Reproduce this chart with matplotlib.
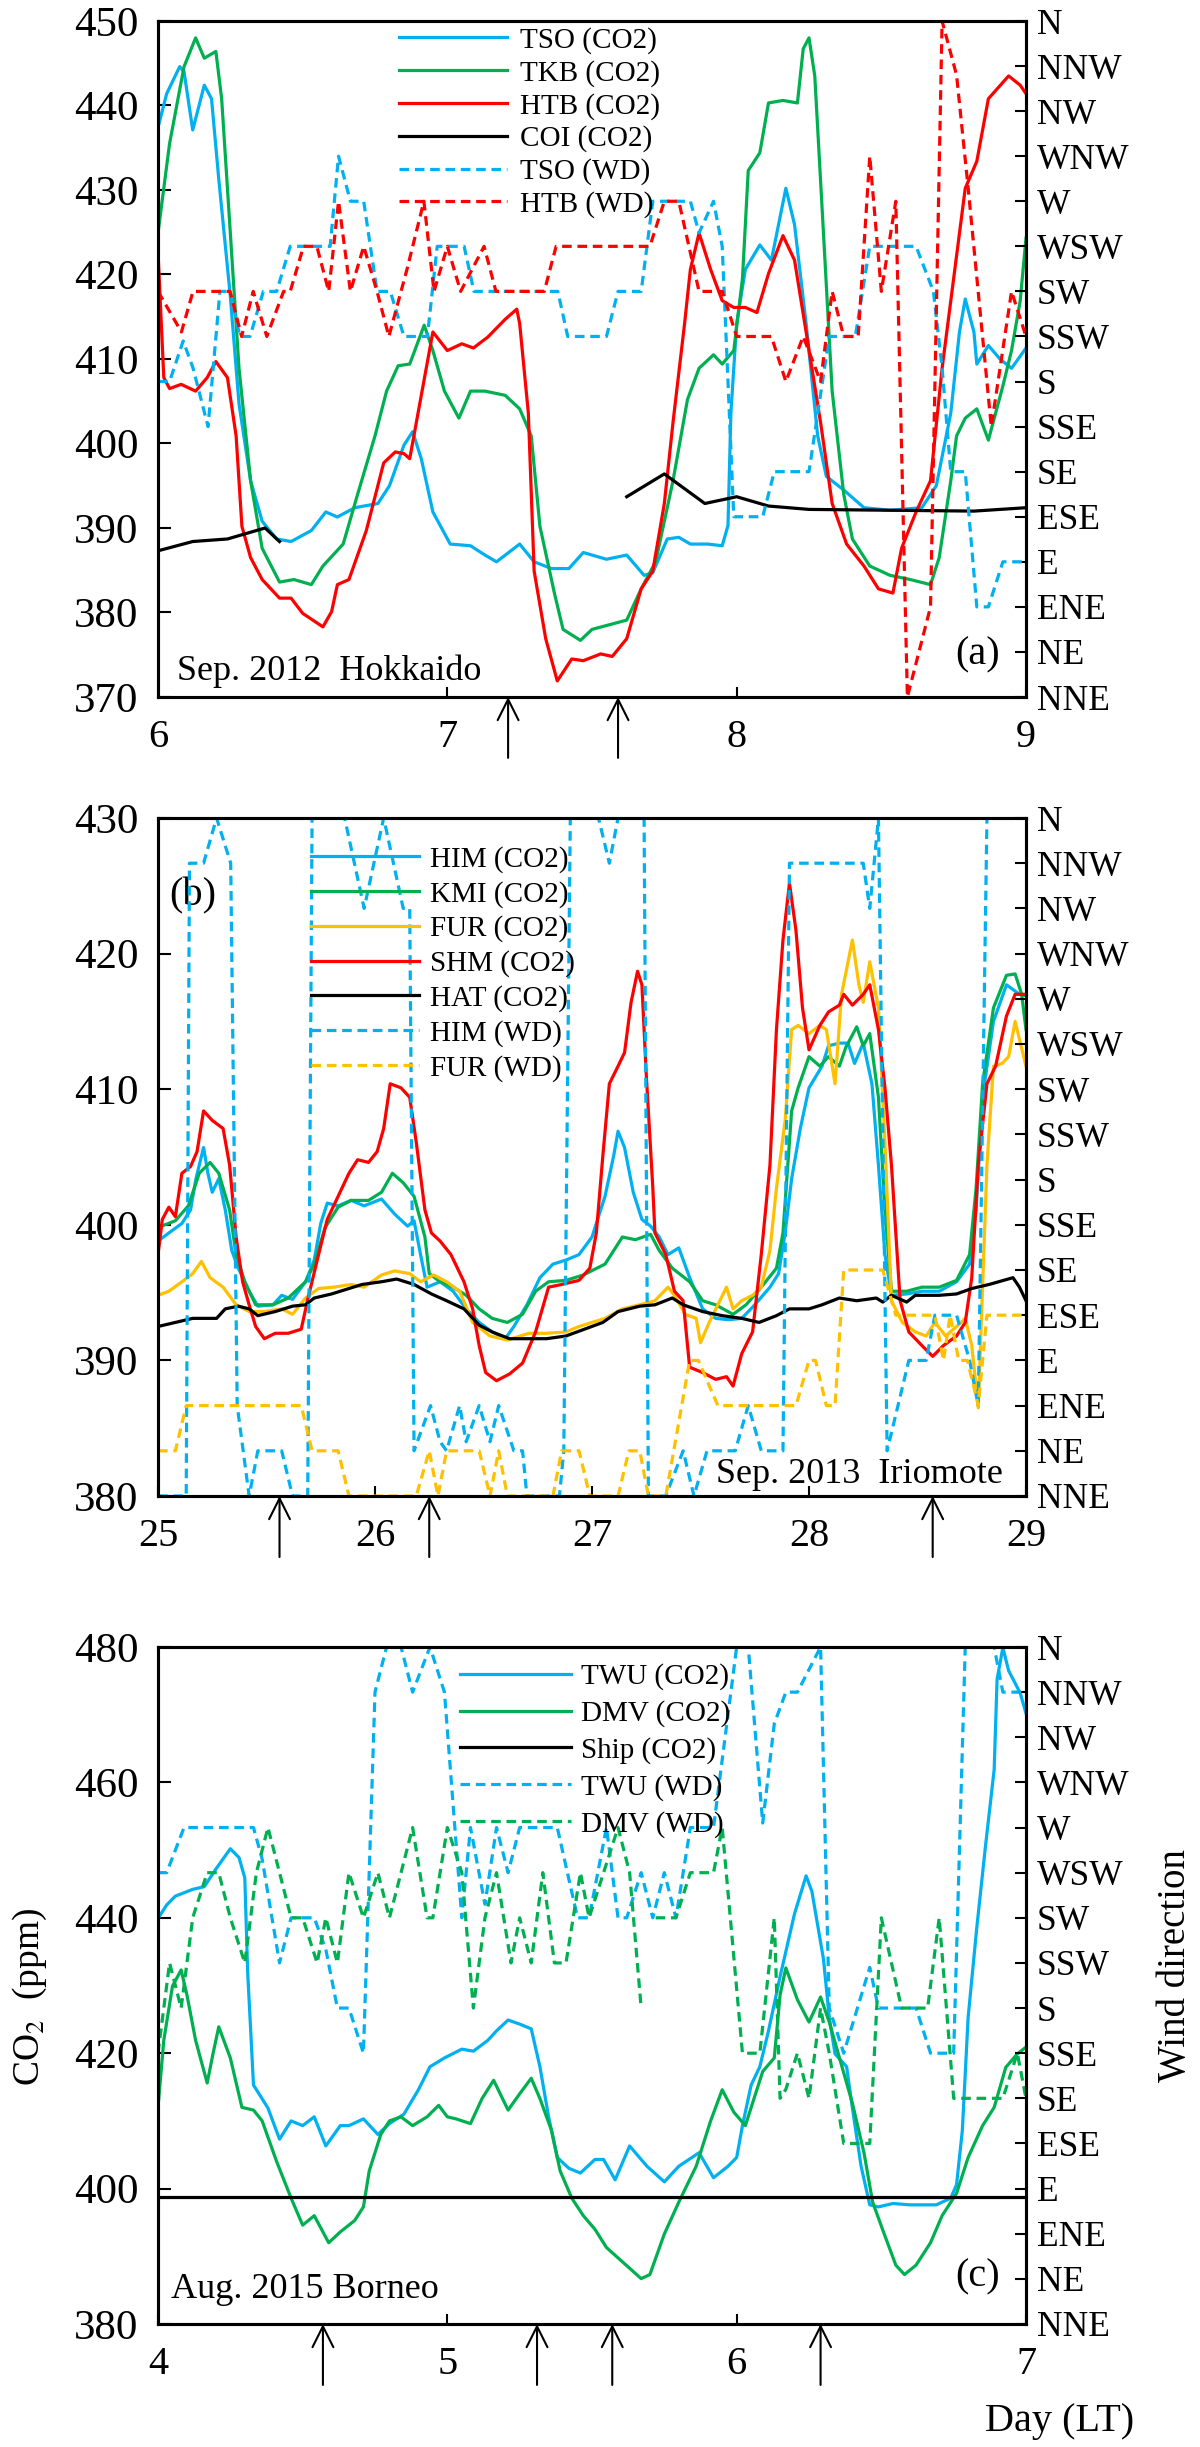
import matplotlib
matplotlib.use("Agg")
import matplotlib.pyplot as plt
import numpy as np

plt.rcParams['font.family'] = ['Liberation Serif', 'DejaVu Serif']
plt.rcParams['mathtext.fontset'] = 'stix'

BLUE = '#00B0F0'
GREEN = '#00B050'
RED = '#FF0000'
YELLOW = '#FFC000'

compass = ['NNE', 'NE', 'ENE', 'E', 'ESE', 'SE', 'SSE', 'S',
           'SSW', 'SW', 'WSW', 'W', 'WNW', 'NW', 'NNW', 'N']  # sector 1..16

# ---------------- (a) Sep. 2012 Hokkaido ----------------
tso_t = [6.00, 6.03, 6.075, 6.09, 6.12, 6.16, 6.185, 6.21, 6.25, 6.28, 6.32, 6.36, 6.41, 6.46, 6.53, 6.58, 6.62,
         6.68, 6.76, 6.80, 6.85, 6.88, 6.91, 6.95, 7.01, 7.08, 7.13, 7.17, 7.25, 7.30, 7.36, 7.42, 7.47, 7.55, 7.62,
         7.68, 7.71, 7.76, 7.80, 7.84, 7.90, 7.95, 7.97, 7.98, 8.00, 8.03, 8.08, 8.12, 8.17, 8.20, 8.24, 8.28, 8.31,
         8.37, 8.44, 8.53, 8.64, 8.69, 8.74, 8.77, 8.79, 8.82, 8.83, 8.87, 8.91, 8.95, 9.00]
tso_co2 = [437.4, 441.4, 444.6, 444.0, 437.1, 442.4, 440.8, 431.3, 417.4, 404.7, 395.6, 390.8, 388.7, 388.4, 389.7,
           391.9, 391.3, 392.4, 392.9, 395.0, 399.8, 401.4, 398.2, 391.9, 388.1, 387.9, 386.8, 386.0, 388.1, 386.0,
           385.2, 385.2, 387.1, 386.3, 386.8, 384.4, 384.7, 388.7, 388.9, 388.1, 388.1, 387.9, 390.3, 403.6, 414.2,
           420.6, 423.5, 421.7, 430.2, 425.9, 414.2, 400.9, 396.1, 394.5, 392.4, 392.1, 392.4, 395.0, 403.6, 413.2,
           417.1, 413.2, 409.4, 411.6, 410.0, 408.9, 411.3]

tkb_t = [6.00, 6.04, 6.09, 6.13, 6.16, 6.20, 6.22, 6.25, 6.28, 6.32, 6.36, 6.42, 6.47, 6.53, 6.57, 6.64, 6.69, 6.75,
         6.79, 6.83, 6.87, 6.92, 6.95, 6.99, 7.04, 7.08, 7.13, 7.20, 7.25, 7.29, 7.32, 7.37, 7.40, 7.46, 7.50, 7.62,
         7.67, 7.72, 7.78, 7.83, 7.87, 7.92, 7.95, 7.99, 8.02, 8.04, 8.08, 8.11, 8.16, 8.21, 8.23, 8.25, 8.27, 8.30,
         8.33, 8.37, 8.40, 8.46, 8.53, 8.60, 8.67, 8.70, 8.74, 8.76, 8.79, 8.83, 8.87, 8.92, 8.95, 8.98, 9.00]
tkb_co2 = [424.9, 435.5, 444.6, 448.0, 445.6, 446.4, 440.8, 424.9, 408.9, 395.6, 387.6, 383.6, 383.9, 383.3, 385.5,
           388.1, 394.0, 400.9, 406.2, 409.2, 409.4, 414.0, 411.0, 406.2, 403.0, 406.2, 406.2, 405.7, 404.1, 400.9,
           390.2, 382.3, 378.0, 376.7, 378.0, 379.1, 382.8, 386.0, 395.6, 405.2, 408.9, 410.5, 409.4, 411.0, 419.5,
           432.3, 434.4, 440.3, 440.6, 440.3, 446.7, 448.0, 443.5, 424.9, 406.2, 394.0, 388.7, 385.5, 384.4, 383.9,
           383.3, 386.5, 395.6, 400.9, 403.0, 404.1, 400.4, 406.8, 411.0, 416.9, 424.3]

htb_t = [6.00, 6.02, 6.04, 6.08, 6.13, 6.17, 6.20, 6.24, 6.27, 6.29, 6.32, 6.36, 6.42, 6.46, 6.50, 6.57, 6.60, 6.62,
         6.66, 6.72, 6.78, 6.82, 6.85, 6.87, 6.91, 6.95, 7.00, 7.05, 7.09, 7.14, 7.20, 7.24, 7.25, 7.28, 7.30, 7.34,
         7.38, 7.43, 7.47, 7.53, 7.57, 7.62, 7.67, 7.71, 7.75, 7.78, 7.82, 7.84, 7.87, 7.91, 7.95, 7.99, 8.03, 8.07,
         8.11, 8.16, 8.20, 8.24, 8.29, 8.33, 8.38, 8.44, 8.49, 8.54, 8.57, 8.62, 8.67, 8.71, 8.76, 8.79, 8.83, 8.87,
         8.94, 8.98, 9.00]
htb_co2 = [422.7, 407.8, 406.5, 407.0, 406.2, 407.8, 409.7, 407.8, 400.9, 390.2, 386.5, 383.9, 381.7, 381.7, 379.9,
           378.3, 380.1, 383.3, 383.9, 389.7, 397.7, 399.0, 398.8, 398.2, 405.7, 413.2, 411.0, 411.8, 411.3, 412.6,
           414.7, 415.9, 414.2, 403.6, 384.9, 376.9, 371.9, 374.5, 374.3, 375.1, 374.8, 376.9, 382.8, 384.9, 392.9,
           402.5, 414.2, 420.6, 424.9, 420.6, 416.9, 416.1, 416.1, 415.5, 420.1, 424.6, 421.7, 413.2, 402.5, 392.9,
           388.1, 385.5, 382.8, 382.3, 387.6, 391.9, 395.6, 408.9, 422.2, 430.2, 433.4, 440.8, 443.5, 442.4, 441.4]

coi_t = [6.00, 6.12, 6.24, 6.29, 6.37, 6.42, 7.00, 7.62, 7.75, 7.89, 8.00, 8.11, 8.25, 8.53, 8.82, 9.00]
coi_co2 = [387.3, 388.4, 388.7, 389.2, 390.0, 388.4, np.nan, 393.7, 396.4, 392.9, 393.7, 392.6, 392.2, 392.1,
           392.0, 392.4]

tso_wd_t = [6.00, 6.04, 6.087, 6.121, 6.173, 6.214, 6.249, 6.283, 6.318, 6.364, 6.41, 6.457, 6.595, 6.624, 6.665,
            6.711, 6.757, 6.803, 6.85, 6.931, 6.965, 7.058, 7.092, 7.382, 7.416, 7.55, 7.59, 7.67, 7.71, 7.84, 7.87,
            7.92, 7.95, 7.99, 8.09, 8.13, 8.25, 8.32, 8.41, 8.46, 8.62, 8.68, 8.71, 8.74, 8.79, 8.83, 8.87, 8.92, 9.00]
tso_wd = [8, 8, 8.9, 8.3, 7, 10, 10, 9, 9, 10, 10, 11, 11, 13, 12, 12, 10, 10, 9, 9, 11, 11, 10, 10, 9, 9, 10, 10,
          12, 12, 11.3, 12, 11, 5, 5, 6, 6, 9, 9, 11, 11, 10, 8.3, 6, 6, 3, 3, 4, 4]

htb_wd_t = [6.00, 6.081, 6.121, 6.249, 6.289, 6.329, 6.376, 6.434, 6.457, 6.503, 6.549, 6.59, 6.624, 6.665, 6.711,
            6.757, 6.798, 6.861, 6.919, 6.954, 7.00, 7.046, 7.127, 7.168, 7.335, 7.376, 7.70, 7.75, 7.80, 7.87, 7.95,
            8.00, 8.12, 8.17, 8.23, 8.29, 8.33, 8.37, 8.42, 8.46, 8.50, 8.55, 8.59, 8.67, 8.71, 8.76, 8.80, 8.88,
            8.95, 9.00]
htb_wd = [10, 9.1, 10, 10, 9, 10, 9, 10, 10, 11, 11, 10, 12, 10, 11, 10, 9, 10.5, 12, 10, 11, 10, 11, 10, 10, 11,
          11, 12, 12, 10, 10, 9, 9, 8, 9, 8, 10, 9, 9, 13, 10, 12, 1, 3, 16, 14.8, 12.3, 7, 10, 9]

arrows_a = [7.21, 7.59]

# ---------------- (b) Sep. 2013 Iriomote ----------------
him_t = [25.00, 25.05, 25.11, 25.15, 25.175, 25.21, 25.23, 25.25, 25.28, 25.31, 25.34, 25.37, 25.42, 25.46, 25.53,
         25.57, 25.62, 25.68, 25.72, 25.75, 25.78, 25.83, 25.89, 25.95, 26.03, 26.09, 26.15, 26.18, 26.21, 26.24,
         26.30, 26.36, 26.42, 26.48, 26.54, 26.60, 26.64, 26.70, 26.76, 26.82, 26.88, 26.94, 27.00, 27.06, 27.10,
         27.12, 27.15, 27.19, 27.23, 27.27, 27.31, 27.35, 27.40, 27.45, 27.51, 27.57, 27.63, 27.69, 27.75, 27.82,
         27.86, 27.89, 27.92, 27.96, 28.00, 28.06, 28.09, 28.14, 28.18, 28.21, 28.25, 28.29, 28.32, 28.35, 28.38,
         28.45, 28.52, 28.60, 28.68, 28.74, 28.77, 28.80, 28.85, 28.91, 28.97, 29.00]
him_co2 = [398.8, 399.4, 400.1, 401.1, 403.4, 405.7, 403.8, 402.4, 403.4, 401.1, 398.1, 396.8, 395.1, 394.0, 394.1,
           394.8, 394.5, 395.8, 397.4, 400.1, 401.6, 401.4, 401.8, 401.4, 401.9, 400.8, 399.9, 400.3, 397.8, 395.4,
           395.8, 395.1, 393.8, 392.8, 392.1, 391.6, 392.5, 394.1, 396.1, 397.1, 397.4, 397.8, 399.1, 402.1, 405.1,
           406.9, 405.7, 402.4, 400.4, 399.9, 399.1, 397.8, 398.3, 396.1, 393.8, 393.1, 393.0, 393.1, 394.1, 395.4,
           396.4, 399.4, 403.4, 407.1, 410.1, 411.7, 413.2, 413.4, 413.4, 411.9, 413.4, 410.4, 404.4, 397.8, 394.8,
           394.9, 395.1, 395.1, 395.8, 397.1, 401.1, 409.4, 415.0, 417.7, 417.0, 416.9]

kmi_t = [25.00, 25.08, 25.14, 25.19, 25.24, 25.28, 25.33, 25.36, 25.40, 25.45, 25.53, 25.60, 25.68, 25.72, 25.77,
         25.83, 25.89, 25.97, 26.03, 26.08, 26.13, 26.18, 26.23, 26.25, 26.30, 26.36, 26.42, 26.48, 26.54, 26.61,
         26.68, 26.74, 26.80, 26.88, 26.96, 27.06, 27.14, 27.20, 27.27, 27.31, 27.37, 27.45, 27.51, 27.57, 27.65,
         27.71, 27.78, 27.85, 27.88, 27.92, 27.95, 28.00, 28.05, 28.09, 28.14, 28.17, 28.22, 28.25, 28.28, 28.32,
         28.35, 28.38, 28.45, 28.52, 28.60, 28.68, 28.74, 28.77, 28.80, 28.85, 28.91, 28.95, 28.98, 29.00]
kmi_co2 = [399.8, 400.3, 401.4, 403.8, 404.6, 403.8, 401.1, 397.8, 395.8, 394.1, 394.1, 394.6, 395.8, 397.1, 399.8,
           401.3, 401.8, 401.8, 402.4, 403.8, 403.1, 402.1, 399.1, 396.4, 395.8, 395.4, 394.8, 393.8, 393.1, 392.8,
           393.4, 395.1, 395.8, 395.9, 396.3, 397.1, 399.1, 398.9, 399.3, 398.1, 396.8, 395.8, 394.4, 394.1, 393.4,
           394.1, 395.4, 396.8, 399.4, 408.4, 410.1, 412.4, 411.7, 412.4, 411.7, 413.1, 414.6, 413.2, 414.1, 409.4,
           401.1, 395.1, 395.1, 395.4, 395.4, 395.9, 397.8, 402.7, 410.4, 416.0, 418.4, 418.5, 417.0, 414.4]

fur_t = [25.00, 25.05, 25.11, 25.16, 25.20, 25.24, 25.30, 25.36, 25.42, 25.49, 25.57, 25.62, 25.68, 25.74, 25.81,
         25.89, 25.95, 26.03, 26.09, 26.16, 26.21, 26.27, 26.33, 26.39, 26.45, 26.53, 26.61, 26.71, 26.79, 26.88,
         26.94, 27.06, 27.14, 27.22, 27.29, 27.35, 27.38, 27.43, 27.48, 27.50, 27.54, 27.58, 27.62, 27.65, 27.69,
         27.74, 27.78, 27.82, 27.85, 27.89, 27.92, 27.95, 28.00, 28.05, 28.08, 28.12, 28.15, 28.20, 28.23, 28.25,
         28.28, 28.32, 28.35, 28.38, 28.43, 28.49, 28.54, 28.58, 28.63, 28.68, 28.72, 28.75, 28.78, 28.82, 28.85,
         28.89, 28.92, 28.95, 29.00]
fur_co2 = [394.8, 395.1, 395.8, 396.4, 397.3, 396.1, 395.4, 394.1, 393.6, 393.6, 393.8, 393.4, 394.6, 395.3, 395.4,
           395.6, 395.4, 396.3, 396.6, 396.4, 395.8, 396.3, 395.8, 395.1, 392.8, 391.8, 391.5, 392.0, 392.0, 392.1,
           392.5, 393.1, 393.8, 394.1, 394.4, 395.4, 394.8, 393.4, 393.1, 391.3, 392.8, 394.1, 395.4, 393.8, 394.4,
           394.8, 395.4, 398.1, 402.7, 407.7, 414.4, 414.7, 414.1, 414.7, 414.4, 410.4, 417.0, 421.0, 417.7, 416.4,
           419.4, 416.0, 406.1, 394.4, 392.8, 392.1, 391.8, 392.8, 391.8, 392.5, 393.1, 391.1, 386.5, 404.4, 411.7,
           411.9, 412.4, 415.0, 411.7]

shm_t = [25.00, 25.02, 25.05, 25.08, 25.11, 25.15, 25.18, 25.21, 25.25, 25.30, 25.33, 25.36, 25.39, 25.42, 25.45,
         25.49, 25.54, 25.60, 25.66, 25.69, 25.74, 25.78, 25.83, 25.88, 25.92, 25.97, 26.01, 26.04, 26.07, 26.12,
         26.16, 26.19, 26.23, 26.26, 26.30, 26.35, 26.41, 26.45, 26.48, 26.51, 26.56, 26.62, 26.68, 26.74, 26.80,
         26.86, 26.94, 26.99, 27.02, 27.05, 27.08, 27.12, 27.15, 27.18, 27.21, 27.23, 27.25, 27.28, 27.29, 27.34,
         27.38, 27.42, 27.45, 27.51, 27.57, 27.62, 27.65, 27.69, 27.74, 27.78, 27.82, 27.85, 27.88, 27.91, 27.94,
         27.97, 28.00, 28.05, 28.09, 28.14, 28.16, 28.20, 28.25, 28.28, 28.32, 28.35, 28.38, 28.42, 28.46, 28.52,
         28.57, 28.62, 28.68, 28.72, 28.75, 28.78, 28.82, 28.86, 28.91, 28.95, 29.00]
shm_co2 = [397.8, 400.4, 401.3, 400.6, 403.8, 404.3, 405.4, 408.4, 407.7, 407.1, 404.4, 399.1, 395.8, 394.1, 392.5,
           391.6, 392.0, 392.0, 392.3, 394.5, 397.8, 400.4, 402.1, 403.8, 404.8, 404.6, 405.4, 407.1, 410.4, 410.1,
           409.4, 406.1, 401.1, 399.4, 398.8, 397.8, 395.8, 393.8, 391.1, 389.1, 388.5, 389.0, 389.8, 392.1, 395.4,
           395.6, 395.9, 396.8, 399.4, 405.1, 410.4, 411.7, 412.7, 416.4, 418.7, 417.7, 411.1, 402.8, 399.4, 397.8,
           395.1, 394.4, 389.5, 389.1, 388.6, 388.8, 388.1, 390.5, 392.1, 397.8, 404.4, 414.4, 421.0, 425.2, 421.7,
           416.0, 412.9, 414.7, 415.7, 416.2, 417.0, 416.2, 417.0, 417.7, 414.4, 410.1, 404.4, 394.4, 392.1, 391.1,
           390.3, 391.1, 391.8, 392.8, 396.1, 404.4, 410.4, 411.7, 415.4, 417.0, 417.0]

hat_t = [25.00, 25.08, 25.16, 25.27, 25.31, 25.37, 25.42, 25.46, 25.54, 25.62, 25.68, 25.72, 25.80, 25.88, 25.94,
         26.03, 26.10, 26.18, 26.26, 26.33, 26.41, 26.48, 26.54, 26.62, 26.71, 26.79, 26.88, 27.05, 27.12, 27.22,
         27.29, 27.37, 27.42, 27.51, 27.60, 27.69, 27.77, 27.85, 27.91, 28.00, 28.06, 28.14, 28.22, 28.31, 28.34,
         28.38, 28.45, 28.49, 28.60, 28.68, 28.75, 28.83, 28.94, 28.97, 29.00]
hat_co2 = [392.5, 392.8, 393.1, 393.1, 393.8, 394.0, 393.8, 393.3, 393.6, 394.0, 394.1, 394.6, 394.9, 395.3, 395.6,
           395.8, 396.0, 395.6, 394.9, 394.4, 393.8, 392.6, 392.1, 391.6, 391.6, 391.6, 391.8, 392.8, 393.6, 394.0,
           394.1, 394.6, 394.1, 393.6, 393.3, 393.1, 392.8, 393.3, 393.8, 393.8, 394.1, 394.6, 394.4, 394.6, 394.3,
           394.8, 394.3, 394.8, 394.8, 394.9, 395.3, 395.6, 396.1, 395.4, 394.4]

him_wd_t = [25.00, 25.13, 25.145, 25.21, 25.27, 25.335, 25.365, 25.42, 25.46, 25.57, 25.62, 25.69, 25.71, 25.86,
            25.95, 26.04, 26.13, 26.16, 26.18, 26.195, 26.256, 26.30, 26.33, 26.39, 26.42, 26.48, 26.53, 26.57,
            26.64, 26.68, 26.70, 26.85, 26.87, 26.90, 27.03, 27.08, 27.12, 27.24, 27.26, 27.34, 27.42, 27.47, 27.53,
            27.66, 27.72, 27.78, 27.88, 27.91, 28.25, 28.28, 28.32, 28.36, 28.46, 28.54, 28.58, 28.68, 28.74, 28.78,
            28.82, 29.00]
him_wd = [1, 1, 15, 15, 16, 15, 3, 1, 2, 2, 1, 1, 16, 16, 14, 16, 14, 14, 2, 2.2, 3, 2.2, 2, 3, 2.2, 3, 2.2, 3, 2,
          2, 1, 1, 2, 16, 16, 15, 16, 16, 1, 1, 2, 1, 2, 2, 3, 2, 2, 15, 15, 14, 16, 2, 4, 4, 5, 5, 4, 3, 16, 16]

fur_wd_t = [25.00, 25.08, 25.13, 25.66, 25.71, 25.83, 25.88, 26.19, 26.25, 26.29, 26.33, 26.48, 26.53, 26.57, 26.61,
            26.82, 26.86, 26.94, 26.99, 27.12, 27.17, 27.22, 27.26, 27.34, 27.45, 27.49, 27.58, 27.94, 28.00, 28.03,
            28.08, 28.12, 28.16, 28.34, 28.40, 28.58, 28.62, 28.65, 28.69, 28.73, 28.78, 28.82, 29.00]
fur_wd = [2, 2, 3, 3, 2, 2, 1, 1, 2, 1, 2, 2, 1, 2, 1, 1, 2, 2, 1, 1, 2, 2, 1, 1, 4, 4, 3, 3, 4, 4, 3, 3, 6, 6, 5,
          5, 4, 5, 4, 4, 3, 5, 5]

arrows_b = [25.56, 26.25, 28.57]

# ---------------- (c) Aug. 2015 Borneo ----------------
twu_t = [4.00, 4.03, 4.06, 4.12, 4.16, 4.20, 4.25, 4.28, 4.30, 4.31, 4.33, 4.38, 4.42, 4.46, 4.50, 4.54, 4.58, 4.63,
         4.66, 4.71, 4.76, 4.80, 4.85, 4.90, 4.94, 4.99, 5.05, 5.09, 5.14, 5.17, 5.21, 5.25, 5.29, 5.32, 5.35, 5.38,
         5.42, 5.46, 5.51, 5.54, 5.58, 5.63, 5.69, 5.75, 5.80, 5.87, 5.92, 5.97, 6.00, 6.02, 6.05, 6.08, 6.11, 6.15,
         6.20, 6.24, 6.26, 6.30, 6.32, 6.34, 6.38, 6.40, 6.43, 6.46, 6.49, 6.54, 6.60, 6.69, 6.74, 6.76, 6.78, 6.80,
         6.83, 6.86, 6.89, 6.90, 6.92, 6.94, 6.98, 7.00]
twu_co2 = [439.9, 441.9, 443.2, 444.2, 444.6, 447.2, 450.2, 448.9, 445.9, 431.9, 415.3, 411.9, 407.3, 410.0, 409.3,
           410.6, 406.3, 409.3, 409.3, 410.3, 408.0, 409.6, 411.0, 414.6, 418.0, 419.3, 420.6, 420.3, 421.9, 423.3,
           424.9, 424.3, 423.6, 418.0, 410.6, 404.6, 403.0, 402.3, 404.3, 404.3, 401.3, 406.3, 403.3, 401.0, 403.3,
           405.3, 401.6, 403.3, 404.6, 409.3, 415.3, 418.0, 423.3, 431.3, 440.6, 446.2, 443.9, 433.9, 425.3, 419.9,
           418.0, 411.9, 403.3, 397.6, 397.3, 397.8, 397.6, 397.6, 398.6, 400.6, 408.6, 425.3, 438.6, 450.6, 461.9,
           475.2, 479.9, 476.5, 473.2, 470.2]

dmv_t = [4.00, 4.02, 4.05, 4.08, 4.10, 4.13, 4.17, 4.19, 4.21, 4.25, 4.29, 4.33, 4.36, 4.41, 4.46, 4.50, 4.54, 4.59,
         4.63, 4.68, 4.71, 4.73, 4.77, 4.80, 4.84, 4.88, 4.93, 4.97, 5.00, 5.03, 5.08, 5.12, 5.16, 5.21, 5.25, 5.29,
         5.32, 5.36, 5.39, 5.43, 5.47, 5.51, 5.55, 5.61, 5.67, 5.70, 5.75, 5.80, 5.86, 5.91, 5.95, 5.99, 6.03, 6.06,
         6.09, 6.13, 6.15, 6.17, 6.21, 6.25, 6.29, 6.32, 6.36, 6.40, 6.44, 6.47, 6.51, 6.55, 6.58, 6.62, 6.67, 6.71,
         6.76, 6.80, 6.85, 6.89, 6.93, 6.97, 7.00]
dmv_co2 = [412.0, 421.9, 429.9, 432.3, 428.6, 421.9, 415.6, 419.9, 423.9, 419.3, 412.0, 411.6, 410.0, 404.0, 398.6,
           394.6, 396.0, 392.0, 393.6, 395.3, 397.3, 402.6, 408.0, 410.0, 410.6, 409.3, 410.6, 412.3, 410.6, 410.3,
           409.6, 413.3, 416.0, 411.6, 414.0, 416.3, 413.3, 408.6, 402.6, 398.6, 396.0, 394.0, 391.3, 389.0, 386.7,
           387.3, 393.3, 398.0, 403.3, 410.0, 414.6, 411.3, 409.3, 413.3, 417.3, 419.3, 428.6, 432.6, 427.9, 424.6,
           428.3, 424.6, 418.6, 412.6, 405.3, 398.0, 393.3, 388.7, 387.3, 388.7, 392.0, 396.0, 399.3, 404.6, 409.3,
           412.0, 417.9, 419.9, 420.9]

ship_t = [4.0, 5.0, 6.0, 7.0]
ship_co2 = [398.8, 398.8, 398.8, 398.8]

twu_wd_t = [4.00, 4.03, 4.09, 4.33, 4.36, 4.42, 4.46, 4.54, 4.58, 4.62, 4.66, 4.71, 4.75, 4.79, 4.84, 4.88, 4.94,
            4.99, 5.05, 5.08, 5.13, 5.17, 5.21, 5.25, 5.38, 5.45, 5.49, 5.55, 5.59, 5.62, 5.67, 5.71, 5.75, 5.79,
            5.84, 5.92, 6.00, 6.04, 6.09, 6.13, 6.17, 6.21, 6.29, 6.32, 6.37, 6.46, 6.49, 6.62, 6.67, 6.75, 6.79,
            6.89, 6.92, 7.00]
twu_wd = [11, 11, 12, 12, 11.3, 9, 10, 10, 9.3, 8, 8, 7, 15, 16, 16, 15, 16, 15, 10, 12, 10.3, 12, 11, 12, 12, 10,
          10, 12, 10, 10, 11, 10, 11, 10, 12, 12, 16, 16, 12.1, 14.3, 15, 15, 16, 8, 7, 8.9, 8, 8, 7, 7, 16, 16, 15,
          15]

dmv_wd_t = [4.00, 4.04, 4.08, 4.12, 4.17, 4.21, 4.25, 4.30, 4.34, 4.38, 4.42, 4.46, 4.50, 4.55, 4.58, 4.62, 4.66,
            4.71, 4.76, 4.80, 4.88, 4.93, 4.95, 5.00, 5.05, 5.09, 5.13, 5.17, 5.22, 5.25, 5.29, 5.33, 5.37, 5.41,
            5.46, 5.49, 5.54, 5.59, 5.63, 5.67, 5.69, 5.72, 5.79, 5.84, 5.92, 5.95, 6.02, 6.08, 6.13, 6.15, 6.17,
            6.21, 6.25, 6.29, 6.32, 6.37, 6.46, 6.50, 6.57, 6.66, 6.70, 6.75, 6.92, 6.97, 7.00]
dmv_wd = [7, 9, 8, 10, 11, 11, 10, 9, 11, 12, 11, 10, 10, 9, 10, 9, 11, 10, 11, 10, 12, 10, 10, 12, 11, 8, 10, 11,
          9, 10, 9, 11, 9, 9, 11, 10, 11, 12, 11, 8, np.nan, 10, 10, 11, 11, 12, 7, 7, 10, 6, 6.2, 7, 6, 8, 7, 5, 5,
          10, 8, 8, 10, 6, 6, 7, 6]

arrows_c = [4.57, 5.31, 5.57, 6.29]

W, H = 1200, 2447
fig = plt.figure(figsize=(W / 100, H / 100), dpi=100)
left, width = 158 / W, 868 / W


def make_panel(top_px, bottom_px, xlim, xticks, ylim, yticks):
    ax = fig.add_axes([left, 1 - bottom_px / H, width, (bottom_px - top_px) / H])
    ax.set_xlim(*xlim)
    ax.set_ylim(*ylim)
    ax.set_xticks(xticks)
    ax.set_yticks(yticks)
    ax.tick_params(axis='y', direction='in', length=9, width=1.5, labelsize=31, pad=14)
    ax.tick_params(axis='x', direction='in', length=7, width=1.5, labelsize=29, pad=16)
    ax2 = ax.twinx()
    ax2.set_ylim(1, 16)
    ax2.set_yticks(range(1, 17))
    ax2.set_yticklabels(compass)
    ax2.tick_params(axis='y', direction='in', length=8, width=1.5, labelsize=25.5, pad=8)
    for a in (ax, ax2):
        for s in a.spines.values():
            s.set_linewidth(2.2)
    return ax, ax2


def add_arrows(ax, days):
    tr = ax.get_xaxis_transform()
    for d in days:
        ax.annotate('', xy=(d, 0), xycoords=tr, xytext=(d, -0.09), textcoords=tr,
                    arrowprops=dict(arrowstyle='->,head_length=0.6,head_width=0.3', lw=1.5, color='black',
                                    shrinkA=0, shrinkB=0, mutation_scale=25),
                    annotation_clip=False)


LW = 2.3
DASH = (3, 1.8)

# panel (a)
axA, axA2 = make_panel(21, 697, (6, 9), [6, 7, 8, 9], (370, 450), range(370, 451, 10))
hA = []
hA += axA.plot(tso_t, tso_co2, color=BLUE, lw=LW, label='TSO (CO2)')
hA += axA.plot(tkb_t, tkb_co2, color=GREEN, lw=LW, label='TKB (CO2)')
hA += axA.plot(htb_t, htb_co2, color=RED, lw=LW, label='HTB (CO2)')
hA += axA.plot(coi_t, coi_co2, color='black', lw=LW, label='COI (CO2)')
hA += axA2.plot(tso_wd_t, tso_wd, color=BLUE, lw=LW, dashes=DASH, label='TSO (WD)')
hA += axA2.plot(htb_wd_t, htb_wd, color=RED, lw=LW, dashes=DASH, label='HTB (WD)')
axA2.legend(handles=hA, loc='upper left', bbox_to_anchor=(0.278, 0.991), frameon=False, fontsize=21,
            handlelength=3.7, handletextpad=0.45, labelspacing=0.2, borderpad=0, borderaxespad=0)
axA.text(0.022, 0.025, 'Sep. 2012  Hokkaido', transform=axA.transAxes, fontsize=26, va='baseline')
axA.text(0.97, 0.062, '(a)', transform=axA.transAxes, fontsize=29, ha='right', va='center')
add_arrows(axA, arrows_a)

# panel (b)
axB, axB2 = make_panel(818, 1496, (25, 29), [25, 26, 27, 28, 29], (380, 430), range(380, 431, 10))
hB = []
hB += axB.plot(him_t, him_co2, color=BLUE, lw=LW, label='HIM (CO2)')
hB += axB.plot(kmi_t, kmi_co2, color=GREEN, lw=LW, label='KMI (CO2)')
hB += axB.plot(fur_t, fur_co2, color=YELLOW, lw=LW, label='FUR (CO2)')
hB += axB.plot(shm_t, shm_co2, color=RED, lw=LW, label='SHM (CO2)')
hB += axB.plot(hat_t, hat_co2, color='black', lw=LW, label='HAT (CO2)')
hB += axB2.plot(him_wd_t, him_wd, color=BLUE, lw=LW, dashes=DASH, label='HIM (WD)')
hB += axB2.plot(fur_wd_t, fur_wd, color=YELLOW, lw=LW, dashes=DASH, label='FUR (WD)')
axB2.legend(handles=hB, loc='upper left', bbox_to_anchor=(0.176, 0.959), frameon=False, fontsize=21,
            handlelength=3.7, handletextpad=0.4, labelspacing=0.27, borderpad=0, borderaxespad=0)
axB.text(0.013, 0.885, '(b)', transform=axB.transAxes, fontsize=29, ha='left', va='center')
axB.text(0.973, 0.019, 'Sep. 2013  Iriomote', transform=axB.transAxes, fontsize=26, ha='right',
         va='baseline')
add_arrows(axB, arrows_b)

# panel (c)
axC, axC2 = make_panel(1647, 2324, (4, 7), [4, 5, 6, 7], (380, 480), range(380, 481, 20))
hC = []
hC += axC.plot(twu_t, twu_co2, color=BLUE, lw=LW, label='TWU (CO2)')
hC += axC.plot(dmv_t, dmv_co2, color=GREEN, lw=LW, label='DMV (CO2)')
hC += axC.plot(ship_t, ship_co2, color='black', lw=LW, label='Ship (CO2)')
hC += axC2.plot(twu_wd_t, twu_wd, color=BLUE, lw=LW, dashes=DASH, label='TWU (WD)')
hC += axC2.plot(dmv_wd_t, dmv_wd, color=GREEN, lw=LW, dashes=DASH, label='DMV (WD)')
axC2.legend(handles=hC, loc='upper left', bbox_to_anchor=(0.348, 0.976), frameon=False, fontsize=21,
            handlelength=3.8, handletextpad=0.35, labelspacing=0.34, borderpad=0, borderaxespad=0)
axC.text(0.015, 0.038, 'Aug. 2015 Borneo', transform=axC.transAxes, fontsize=26, va='baseline')
axC.text(0.97, 0.069, '(c)', transform=axC.transAxes, fontsize=29, ha='right', va='center')
add_arrows(axC, arrows_c)

fig.text(30 / W, 1 - 1997 / H, 'CO$_2$  (ppm)', rotation=90, ha='center', va='center', fontsize=27)
fig.text(1175 / W, 1 - 1966 / H, 'Wind direction', rotation=90, ha='center', va='center', fontsize=28)
fig.text(1134 / W, 1 - 2421 / H, 'Day (LT)', ha='right', va='center', fontsize=29)

fig.savefig('out.png', dpi=100)
